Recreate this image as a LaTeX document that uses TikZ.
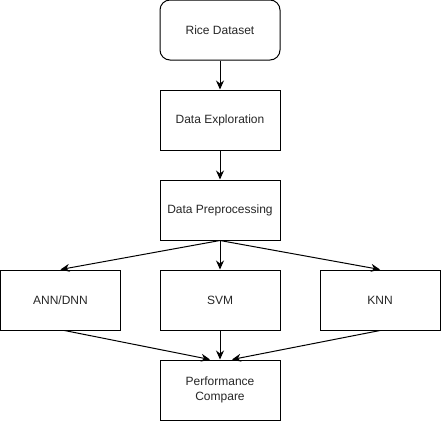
\documentclass[tikz,border=0pt]{standalone}
\usepackage{fontspec}
\setmainfont{Liberation Sans}
\usetikzlibrary{arrows.meta}
\begin{document}
\begin{tikzpicture}[x=1pt,y=-1pt,
  box/.style={draw=black,line width=1pt,minimum width=120pt,minimum height=60pt,inner sep=0pt,align=center,font=\fontsize{12}{15}\selectfont,text=black!85},
  rbox/.style={box,rounded corners=10pt},
  arr/.style={draw=black,line width=1pt,-{Stealth[length=9pt,width=8pt,inset=3pt]}}]
\useasboundingbox (0,0) rectangle (441,421);
\node[rbox] (rice) at (220,30) {Rice Dataset};
\node[box] (explo) at (220,120) {Data Exploration};
\node[box] (prep) at (220,210) {Data Preprocessing};
\node[box] (ann) at (60.5,300) {ANN/DNN};
\node[box] (svm) at (220,300) {SVM};
\node[box] (knn) at (380,300) {KNN};
\node[box] (perf) at (220,390) {Performance\\Compare};
\draw[arr] (rice) -- (explo);
\draw[arr] (explo) -- (prep);
\draw[arr] (prep.south) -- (ann.north);
\draw[arr] (prep) -- (svm);
\draw[arr] (prep.south) -- (knn.north);
\draw[arr] ([xshift=4pt]ann.south) -- ([xshift=-10pt]perf.north);
\draw[arr] (svm) -- (perf);
\draw[arr] (knn.south) -- ([xshift=12pt]perf.north);
\end{tikzpicture}
\end{document}
